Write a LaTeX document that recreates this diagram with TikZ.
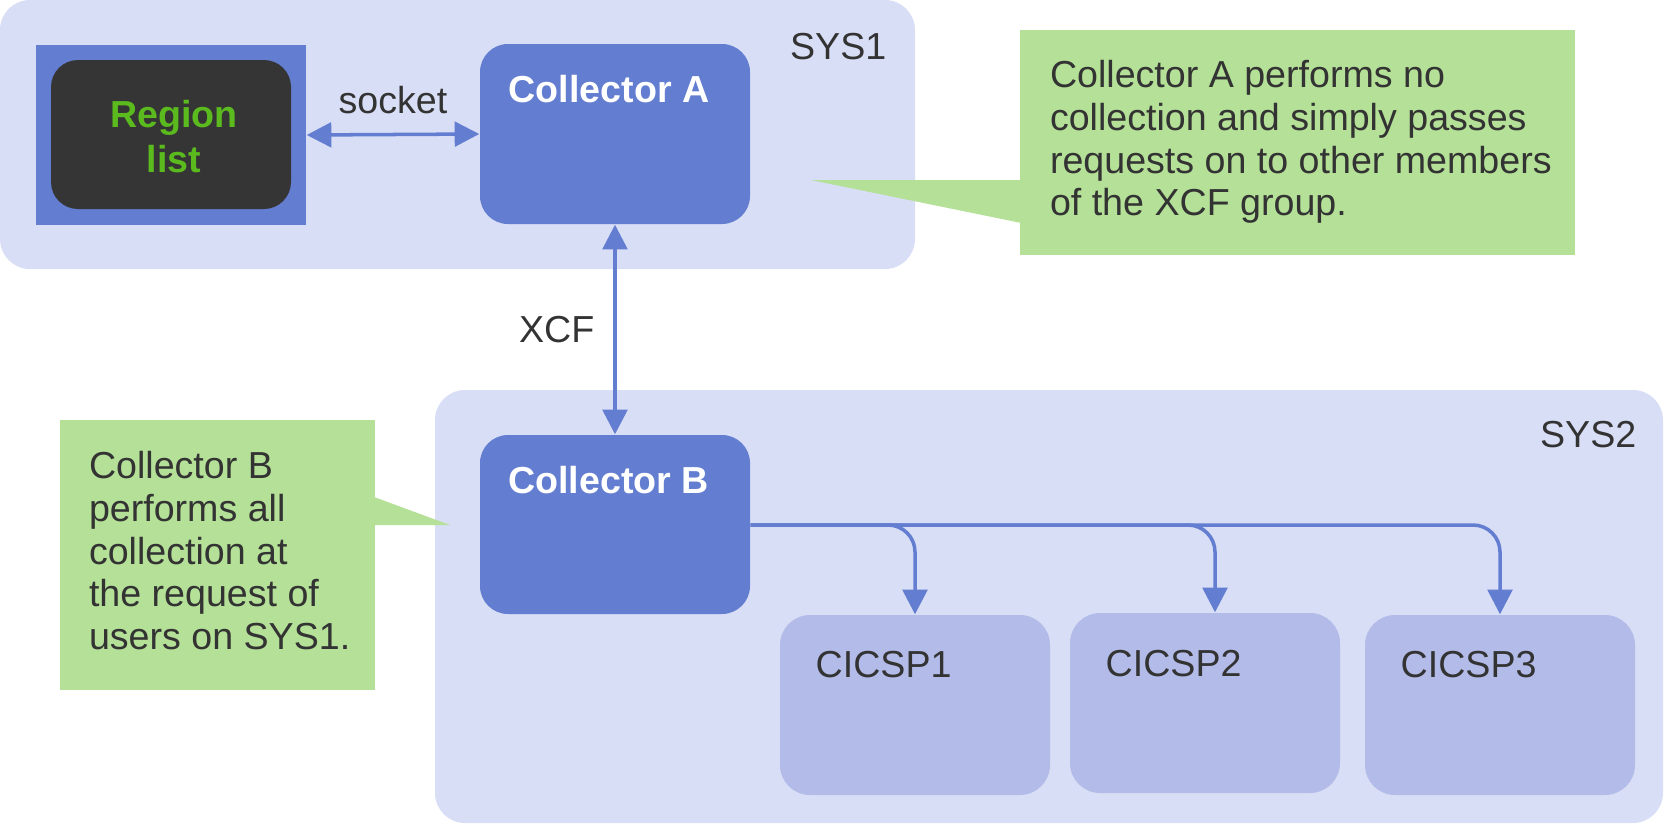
\documentclass[tikz,border=0pt]{standalone}
\usepackage{fontspec}
\setmainfont{Liberation Sans}
\usepackage{xcolor}
\usepackage{tikz}
\usetikzlibrary{positioning,arrows.meta,calc}
\definecolor{sysbg}{HTML}{D8DEF5}
\definecolor{colblue}{HTML}{637DD1}
\definecolor{lparfill}{HTML}{B3BCE9}
\definecolor{notegreen}{HTML}{B4E097}
\definecolor{darkbox}{HTML}{353535}
\definecolor{listgreen}{HTML}{5BBA1E}
\definecolor{ink}{HTML}{333333}

\begin{document}
\begin{tikzpicture}[
  sys/.style={fill=sysbg, rounded corners=0.3cm, inner sep=0pt},
  collector/.style={fill=colblue, rounded corners=0.28cm, minimum width=2.7cm, minimum height=1.8cm, inner sep=0pt},
  lpar/.style={fill=lparfill, rounded corners=0.3cm, minimum width=2.7cm, minimum height=1.8cm, inner sep=0pt},
  note/.style={fill=notegreen, inner sep=0pt},
  txt/.style={font=\fontsize{10.7}{12.2}\selectfont, text=ink, inner sep=0pt},
  head/.style={font=\fontsize{10.7}{12.2}\selectfont\bfseries, text=white, inner sep=0pt},
  link/.style={draw=colblue, line width=1pt, -{Triangle[length=7pt,width=7pt]}}]
\useasboundingbox (0,0) rectangle (16.65,-8.25);
% the two systems
\node[sys, minimum width=9.15cm, minimum height=2.69cm] (sys1) at (4.575,-1.345) {};
\node[sys, minimum width=12.28cm, minimum height=4.33cm] (sys2) at (10.49,-6.065) {};
\node[txt, anchor=base east] (sys1l) at (8.87,-0.59) {SYS1};
\node[txt, anchor=base east] (sys2l) at (16.37,-4.47) {SYS2};
% region list on SYS1
\node[fill=colblue, minimum width=2.7cm, minimum height=1.8cm, inner sep=0pt] (regout) at (1.71,-1.35) {};
\node[fill=darkbox, rounded corners=0.27cm, minimum width=2.4cm, minimum height=1.49cm] (region) at (1.71,-1.345) {};
\node[font=\fontsize{10.7}{12.8}\selectfont\bfseries, text=listgreen, inner sep=0pt, align=center, anchor=north] (regl) at (1.74,-1.00) {Region\\list};
% collectors
\node[collector] (colA) at (6.15,-1.34) {};
\node[collector, minimum height=1.79cm] (colB) at (6.15,-5.245) {};
\node[head, anchor=base] (colAl) at (6.09,-1.02) {Collector A};
\node[head, anchor=base] (colBl) at (6.085,-4.93) {Collector B};
% CICS regions on SYS2
\node[lpar] (cics1) at (9.15,-7.05) {};
\node[lpar] (cics2) at (12.05,-7.03) {};
\node[lpar] (cics3) at (15.00,-7.05) {};
\node[txt, anchor=base west] (cics1l) at (8.15,-6.77) {CICSP1};
\node[txt, anchor=base west] (cics2l) at (11.05,-6.76) {CICSP2};
\node[txt, anchor=base west] (cics3l) at (14.00,-6.77) {CICSP3};
% connections
\draw[link, {Triangle[length=7pt,width=7pt]}-{Triangle[length=7pt,width=7pt]}] (regout.east) -- (colA.west) node[txt, midway, above=0.19cm] (sockl) {socket};
\draw[link, {Triangle[length=7pt,width=7pt]}-{Triangle[length=7pt,width=7pt]}] (colA.south) -- (colB.north) node[txt, midway, anchor=base east, xshift=-0.19cm, yshift=-0.13cm] (xcfl) {XCF};
\coordinate (fork) at ($(colB.east)+(0,-0.005)$);
\draw[link, rounded corners=0.27cm] (fork) -| (cics1.north);
\draw[link, rounded corners=0.27cm] (fork) -| ([xshift=0.1cm]cics2.north);
\draw[link, rounded corners=0.27cm] (fork) -| (cics3.north);
% callouts
\node[note, minimum width=5.55cm, minimum height=2.25cm] (noteA) at (12.975,-1.425) {};
\coordinate (tipA) at (8.11,-1.80);
\fill[notegreen] (tipA) -- ([xshift=2pt]noteA.west |- tipA) -- ([xshift=2pt]noteA.west |- 0,-2.24) -- cycle;
\node[txt, align=left, anchor=north west] (noteAl) at ($(noteA.north west)+(0.30,-0.30)$) {Collector A performs no\\collection and simply passes\\requests on to other members\\of the XCF group.};
\node[note, minimum width=3.15cm, minimum height=2.7cm] (noteB) at (2.175,-5.55) {};
\coordinate (tipB) at (4.50,-5.25);
\fill[notegreen] (tipB) -- ([xshift=-2pt]noteB.east |- tipB) -- ([xshift=-2pt]noteB.east |- 0,-4.95) -- cycle;
\node[txt, align=left, anchor=north west] (noteBl) at ($(noteB.north west)+(0.29,-0.31)$) {Collector B\\performs all\\collection at\\the request of\\users on SYS1.};
\end{tikzpicture}
\end{document}
